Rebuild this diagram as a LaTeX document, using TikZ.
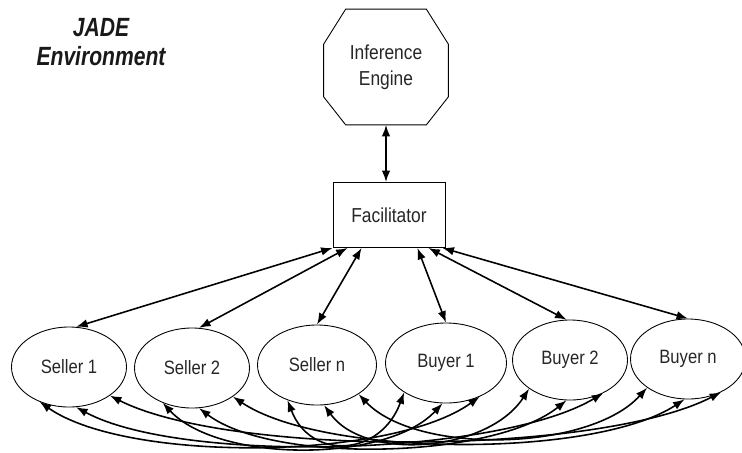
\documentclass[tikz,border=0pt]{standalone}
\usepackage{fontspec}
\setmainfont{Liberation Sans}[FakeStretch=0.86]
\usetikzlibrary{arrows.meta,shapes.geometric,calc}

\tikzset{
  agent/.style={ellipse, draw, line width=0.5pt, minimum width=23mm, minimum height=16mm,
    inner sep=0pt, font=\fontsize{11}{12}\selectfont, text=black!85},
  link/.style={{Latex[length=2.3mm,width=1.7mm]}-{Latex[length=2.3mm,width=1.7mm]}, line width=0.9pt},
}

\begin{document}
\begin{tikzpicture}[x=0.2mm, y=-0.2mm]
    \useasboundingbox (0,0) rectangle (742,452);

    \node[font=\fontsize{15}{17}\selectfont\addfontfeature{FakeStretch=0.8}\bfseries\itshape, align=center, text=black!90] (env) at (101,42) {JADE\\Environment};
    \node[minimum width=24.8mm, minimum height=23mm, inner sep=0pt, align=center,
      font=\fontsize{11.5}{15}\selectfont, text=black!85] (engine) at (386,67) {Inference\\Engine};
    \draw[line width=0.5pt] ([xshift=4.4mm]engine.north west) -- ([xshift=-4.4mm]engine.north east)
      -- ([yshift=-7mm]engine.north east) -- ([yshift=5.6mm]engine.south east)
      -- ([xshift=-4.4mm]engine.south east) -- ([xshift=4.4mm]engine.south west)
      -- ([yshift=5.6mm]engine.south west) -- ([yshift=-7mm]engine.north west) -- cycle;
    \node[draw, line width=0.5pt, minimum width=22.4mm, minimum height=13mm,
      font=\fontsize{11.5}{13}\selectfont, text=black!85] (facil) at (389,215) {Facilitator};

    \node[agent] (s1) at (69,367) {Seller 1};
    \node[agent] (s2) at (192,368) {Seller 2};
    \node[agent, minimum width=23.8mm] (sn) at (317,365) {Seller n};
    \node[agent, minimum width=24.2mm] (b1) at (446,363) {Buyer 1};
    \node[agent] (b2) at (570,360) {Buyer 2};
    \node[agent] (bn) at (688,359) {Buyer n};

    \draw[link] (engine.south) -- (engine.south |- facil.north);

    \draw[link] (facil.south west) -- (s1.80);
    \draw[link] ([xshift=3mm]facil.south west) -- (s2.80);
    \draw[link] ([xshift=5.8mm]facil.south west) -- (sn.north);
    \draw[link] ([xshift=-5.6mm]facil.south east) -- (b1.north);
    \draw[link] ([xshift=-3.4mm]facil.south east) -- (b2.95);
    \draw[link] ([xshift=-0.6mm]facil.south east) -- (bn.north);

    \draw[link] (s1.-130) .. controls ($(s1.-130)!0.2!(b1.-45)+(0,-12.5mm)$) and ($(b1.-45)!0.2!(s1.-130)+(0,-12.5mm)$) .. (b1.-45);
    \draw[link] (s2.-130) .. controls ($(s2.-130)!0.2!(b1.-95)+(0,-12mm)$) and ($(b1.-95)!0.2!(s2.-130)+(0,-12mm)$) .. (b1.-95);
    \draw[link] (sn.-130) .. controls ($(sn.-130)!0.2!(b1.-145)+(0,-12.5mm)$) and ($(b1.-145)!0.2!(sn.-130)+(0,-12.5mm)$) .. (b1.-145);
    \draw[link] (s1.-80) .. controls ($(s1.-80)!0.2!(b2.-45)+(0,-12mm)$) and ($(b2.-45)!0.2!(s1.-80)+(0,-12mm)$) .. (b2.-45);
    \draw[link] (s2.-80) .. controls ($(s2.-80)!0.2!(b2.-95)+(0,-11.5mm)$) and ($(b2.-95)!0.2!(s2.-80)+(0,-11.5mm)$) .. (b2.-95);
    \draw[link] (sn.-80) .. controls ($(sn.-80)!0.2!(b2.-145)+(0,-12mm)$) and ($(b2.-145)!0.2!(sn.-80)+(0,-12mm)$) .. (b2.-145);
    \draw[link] (s1.-35) .. controls ($(s1.-35)!0.2!(bn.-45)+(0,-12.5mm)$) and ($(bn.-45)!0.2!(s1.-35)+(0,-12.5mm)$) .. (bn.-45);
    \draw[link] (s2.-35) .. controls ($(s2.-35)!0.2!(bn.-95)+(0,-12mm)$) and ($(bn.-95)!0.2!(s2.-35)+(0,-12mm)$) .. (bn.-95);
    \draw[link] (sn.-35) .. controls ($(sn.-35)!0.2!(bn.-145)+(0,-12.5mm)$) and ($(bn.-145)!0.2!(sn.-35)+(0,-12.5mm)$) .. (bn.-145);
\end{tikzpicture}
\end{document}
